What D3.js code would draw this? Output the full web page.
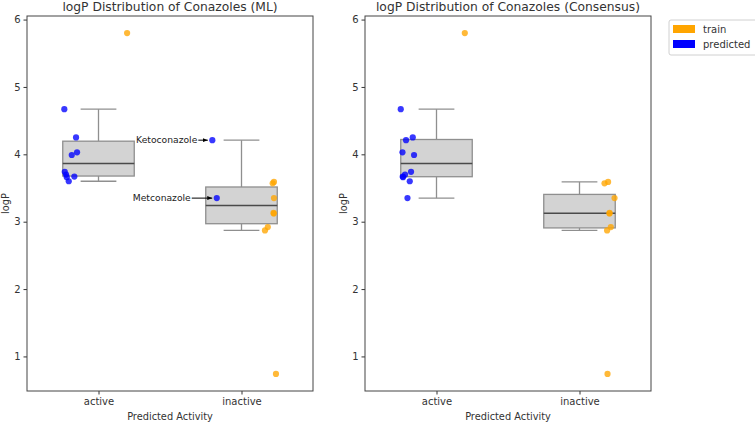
<!DOCTYPE html>
<html>
<head>
<meta charset="utf-8">
<script src="https://cdn.jsdelivr.net/npm/d3@7"></script>
<style>
  body { margin: 0; background: #fff; }
  text { font-family: "DejaVu Sans", sans-serif; fill: #333; }
</style>
</head>
<body>
<div id="container"></div>
<script>
// Width and height
let w = 755;
let h = 423;

// Categories and ticks
let categories = ["active", "inactive"];
let yTicks = [1, 2, 3, 4, 5, 6];
let groups = ["train", "predicted"];
let groupColors = ["#FFA500", "#0000FF"];

// ML panel values (jitter = horizontal offset)
let mlActivePredicted = [4.67, 4.25, 4.03, 3.99, 3.74, 3.70, 3.67, 3.66, 3.60];
let mlActivePredictedJitter = [-0.239, -0.157, -0.150, -0.187, -0.236, -0.227, -0.169, -0.222, -0.208];
let mlActiveTrain = [5.80];
let mlActiveTrainJitter = [0.20];
let mlInactivePredicted = [4.21, 3.35];
let mlInactivePredictedJitter = [-0.204, -0.173];
let mlInactiveTrain = [3.59, 3.57, 3.35, 3.13, 3.12, 2.92, 2.87, 0.74];
let mlInactiveTrainJitter = [0.227, 0.218, 0.227, 0.224, 0.226, 0.184, 0.164, 0.241];

// Consensus panel values
let csActivePredicted = [4.67, 4.25, 4.21, 4.03, 3.99, 3.74, 3.70, 3.67, 3.66, 3.60, 3.35];
let csActivePredictedJitter = [-0.25, -0.166, -0.213, -0.238, -0.157, -0.178, -0.22, -0.236, -0.234, -0.187, -0.203];
let csActiveTrain = [5.80];
let csActiveTrainJitter = [0.198];
let csInactivePredicted = [];
let csInactivePredictedJitter = [];
let csInactiveTrain = [3.59, 3.57, 3.35, 3.13, 3.12, 2.92, 2.87, 0.74];
let csInactiveTrainJitter = [0.20, 0.175, 0.245, 0.21, 0.21, 0.219, 0.193, 0.196];

// Annotated compounds on the ML panel
let annotLabels = ["Ketoconazole", "Metconazole"];
let annotValues = [4.21, 3.35];
let annotJitter = [-0.204, -0.173];
let annotTextDx = [-15, -26];

function points(cat, group, vals, jit) {
  return vals.map(function(v, i) { return { cat: cat, group: group, value: v, jitter: jit[i] }; });
}

let panels = [
  {
    title: "logP Distribution of Conazoles (ML)",
    left: 27,
    data: [].concat(
      points("active", "predicted", mlActivePredicted, mlActivePredictedJitter),
      points("active", "train", mlActiveTrain, mlActiveTrainJitter),
      points("inactive", "predicted", mlInactivePredicted, mlInactivePredictedJitter),
      points("inactive", "train", mlInactiveTrain, mlInactiveTrainJitter)),
    annotate: true
  },
  {
    title: "logP Distribution of Conazoles (Consensus)",
    left: 365,
    data: [].concat(
      points("active", "predicted", csActivePredicted, csActivePredictedJitter),
      points("active", "train", csActiveTrain, csActiveTrainJitter),
      points("inactive", "predicted", csInactivePredicted, csInactivePredictedJitter),
      points("inactive", "train", csInactiveTrain, csInactiveTrainJitter)),
    annotate: false
  }
];

let pw = 286;
let plotTop = 16, plotBottom = 391;

// Create SVG
let svg = d3.select("#container")
  .append("svg")
  .attr("width", w)
  .attr("height", h);

svg.append("defs").append("marker")
  .attr("id", "arrow")
  .attr("viewBox", "0 0 10 10")
  .attr("refX", 10).attr("refY", 5)
  .attr("markerWidth", 5).attr("markerHeight", 5)
  .attr("orient", "auto")
  .append("path")
    .attr("d", "M0,1 L10,5 L0,9 Z")
    .style("fill", "#000");

function boxStats(vals) {
  let s = vals.slice().sort(d3.ascending);
  let q1 = d3.quantile(s, 0.25), med = d3.quantile(s, 0.5), q3 = d3.quantile(s, 0.75);
  let iqr = q3 - q1;
  let lo = d3.min(s.filter(function(v) { return v >= q1 - 1.5 * iqr; }));
  let hi = d3.max(s.filter(function(v) { return v <= q3 + 1.5 * iqr; }));
  return { q1: q1, med: med, q3: q3, lo: lo, hi: hi };
}

panels.forEach(function(p) {
  let ext = d3.extent(p.data, function(d) { return d.value; });
  let pad = (ext[1] - ext[0]) * 0.05;
  let y = d3.scaleLinear().domain([ext[0] - pad, ext[1] + pad]).range([plotBottom, plotTop]);
  let x = d3.scaleLinear().domain([-0.5, 1.5]).range([p.left, p.left + pw]);
  let g = svg.append("g");

  // Boxes
  categories.forEach(function(cat, ci) {
    let vals = p.data.filter(function(d) { return d.cat == cat; }).map(function(d) { return d.value; });
    let b = boxStats(vals);
    let bx = g.append("g").style("stroke", "#8f8f8f").style("stroke-width", 1.3);
    bx.append("line").attr("x1", x(ci)).attr("x2", x(ci)).attr("y1", y(b.q3)).attr("y2", y(b.hi));
    bx.append("line").attr("x1", x(ci)).attr("x2", x(ci)).attr("y1", y(b.q1)).attr("y2", y(b.lo));
    bx.append("line").attr("x1", x(ci - 0.125)).attr("x2", x(ci + 0.125)).attr("y1", y(b.hi)).attr("y2", y(b.hi));
    bx.append("line").attr("x1", x(ci - 0.125)).attr("x2", x(ci + 0.125)).attr("y1", y(b.lo)).attr("y2", y(b.lo));
    bx.append("rect")
      .attr("x", x(ci - 0.25)).attr("width", x(ci + 0.25) - x(ci - 0.25))
      .attr("y", y(b.q3)).attr("height", y(b.q1) - y(b.q3))
      .style("fill", "#d3d3d3");
    g.append("line")
      .attr("x1", x(ci - 0.25)).attr("x2", x(ci + 0.25))
      .attr("y1", y(b.med)).attr("y2", y(b.med))
      .style("stroke", "#4a4a4a").style("stroke-width", 1.5);
  });

  // Points
  g.selectAll("circle")
    .data(p.data)
    .enter()
    .append("circle")
      .attr("cx", function(d) { return x(categories.indexOf(d.cat) + d.jitter); })
      .attr("cy", function(d) { return y(d.value); })
      .attr("r", 3.1)
      .style("fill", function(d) { return groupColors[groups.indexOf(d.group)]; })
      .style("fill-opacity", 0.78);

  // Annotations
  if (p.annotate) {
    annotLabels.forEach(function(lab, i) {
      let px = x(1 + annotJitter[i]), py = y(annotValues[i]);
      let tx = px + annotTextDx[i];
      g.append("text")
        .attr("x", tx).attr("y", py).attr("dy", "0.35em")
        .attr("text-anchor", "end")
        .style("font-size", "9.2px").style("fill", "#222")
        .text(lab);
      g.append("line")
        .attr("x1", tx + 1).attr("x2", px - 4.5)
        .attr("y1", py).attr("y2", py)
        .style("stroke", "#000").style("stroke-width", 1)
        .attr("marker-end", "url(#arrow)");
    });
  }

  // Axes
  let yAxis = d3.axisLeft(y).tickValues(yTicks).tickSize(3.5).tickPadding(3).tickFormat(d3.format("d"));
  let ya = g.append("g").attr("transform", "translate(" + p.left + ",0)").call(yAxis);
  let xAxis = d3.axisBottom(x).tickValues([0, 1]).tickSize(3.5).tickPadding(3)
    .tickFormat(function(d) { return categories[d]; });
  let xa = g.append("g").attr("transform", "translate(0," + plotBottom + ")").call(xAxis);
  [ya, xa].forEach(function(a) {
    a.select(".domain").remove();
    a.selectAll("line").style("stroke", "#333");
    a.selectAll("text").style("font-size", "10px").style("fill", "#333").style("font-family", "DejaVu Sans");
  });

  // Frame
  g.append("rect")
    .attr("x", p.left).attr("y", plotTop).attr("width", pw).attr("height", plotBottom - plotTop)
    .style("fill", "none").style("stroke", "#444").style("stroke-width", 1);

  // Titles and labels
  g.append("text")
    .attr("x", p.left + pw / 2).attr("y", 11)
    .attr("text-anchor", "middle")
    .style("font-size", "12.3px")
    .text(p.title);
  g.append("text")
    .attr("x", p.left + pw / 2).attr("y", 420)
    .attr("text-anchor", "middle")
    .style("font-size", "9.8px")
    .text("Predicted Activity");
  g.append("text")
    .attr("transform", "translate(" + (p.left - 18) + "," + ((plotTop + plotBottom) / 2) + ") rotate(-90)")
    .attr("text-anchor", "middle")
    .style("font-size", "9.8px")
    .text("logP");
});

// Legend
let legend = svg.append("g").attr("transform", "translate(669,20)");
legend.append("rect")
  .attr("width", 92).attr("height", 35).attr("rx", 2)
  .style("fill", "#fff").style("stroke", "#d0d0d0");
groups.forEach(function(gname, i) {
  legend.append("rect")
    .attr("x", 4).attr("y", 5 + i * 15).attr("width", 22).attr("height", 8)
    .style("fill", groupColors[i]);
  legend.append("text")
    .attr("x", 34).attr("y", 9 + i * 15).attr("dy", "0.35em")
    .style("font-size", "10px")
    .text(gname);
});
</script>
</body>
</html>
